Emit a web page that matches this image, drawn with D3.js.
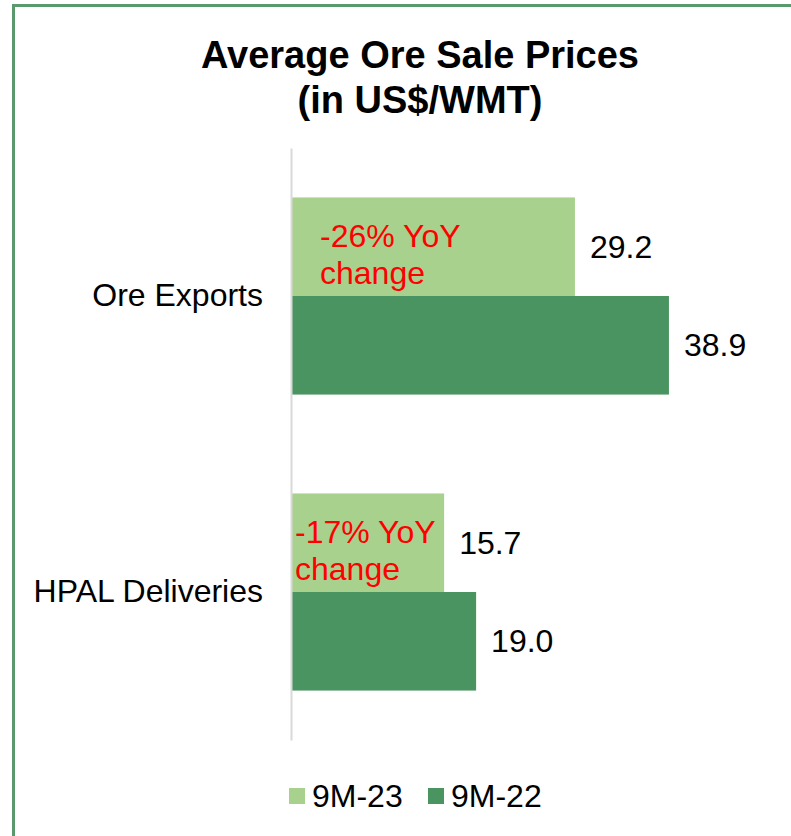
<!DOCTYPE html>
<html>
<head>
<meta charset="utf-8">
<script src="https://cdn.jsdelivr.net/npm/d3@7"></script>
<style>
  body { margin: 0; background: #fff; }
  svg { display: block; font-family: "Liberation Sans", Arial, sans-serif; }
</style>
</head>
<body>
<svg id="main_chart" width="791" height="836"></svg>
<script>
// chart data
const categories = ["Ore Exports", "HPAL Deliveries"];
const seriesNames = ["9M-23", "9M-22"];
const values923 = [29.2, 15.7];
const values922 = [38.9, 19.0];
const yoyNotes = [["-26% YoY", "change"], ["-17% YoY", "change"]];
const titleLines = ["Average Ore Sale Prices", "(in US$/WMT)"];

const colors = { "9M-23": "#a9d18e", "9M-22": "#4a9461" };

let svg = d3.select("#main_chart");

// frame (only top and left visible in the crop)
svg.append("rect")
    .attr("x", 13.5).attr("y", 5.5)
    .attr("width", 900).attr("height", 900)
    .attr("fill", "none")
    .attr("stroke", "#59996b")
    .attr("stroke-width", 3);

// title
svg.append("g").selectAll("text")
    .data(titleLines)
    .enter().append("text")
    .attr("x", 420)
    .attr("y", (d, i) => 68 + i * 45)
    .attr("text-anchor", "middle")
    .style("font-size", "38px")
    .style("font-weight", "bold")
    .text(d => d);

let xScale = d3.scaleLinear()
    .domain([0, 40])
    .range([292, 292 + 387.6]);

let yScale = d3.scaleBand()
    .domain(categories)
    .range([148, 740])
    .paddingInner(0.334)
    .paddingOuter(0.167);

let sub = d3.scaleBand()
    .domain(seriesNames)
    .range([0, yScale.bandwidth()]);

let rows = categories.map((c, i) => ({
    cat: c,
    vals: [
        { key: "9M-23", v: values923[i] },
        { key: "9M-22", v: values922[i] }
    ],
    note: yoyNotes[i]
}));

let chart = svg.append("g");

let groups = chart.selectAll("g.cat")
    .data(rows)
    .enter().append("g")
    .attr("class", "cat")
    .attr("transform", d => "translate(0," + yScale(d.cat) + ")");

groups.selectAll("rect")
    .data(d => d.vals)
    .enter().append("rect")
    .attr("x", xScale(0))
    .attr("y", d => sub(d.key))
    .attr("width", d => xScale(d.v) - xScale(0))
    .attr("height", sub.bandwidth())
    .attr("fill", d => colors[d.key]);

groups.selectAll("text.val")
    .data(d => d.vals)
    .enter().append("text")
    .attr("class", "val")
    .attr("x", d => xScale(d.v) + 15)
    .attr("y", d => sub(d.key) + sub.bandwidth() / 2)
    .attr("dy", "0.35em")
    .style("font-size", "32px")
    .text(d => d.v.toFixed(1));

// YoY notes in red inside the light bars
const noteX = [320, 295];
groups.each(function(d, i) {
    let t = d3.select(this).append("text")
        .attr("fill", "#ff0000")
        .style("font-size", "32px");
    d.note.forEach((line, j) => {
        t.append("tspan")
            .attr("x", noteX[i])
            .attr("y", sub("9M-23") + sub.bandwidth() / 2 - 11 + j * 37)
            .attr("dy", "0.35em")
            .text(line);
    });
});

// left axis
let yAxis = svg.append("g")
    .attr("transform", "translate(291,0)")
    .call(d3.axisLeft(yScale).tickSize(0).tickPadding(28));
yAxis.select(".domain").attr("stroke", "#d9d9d9").attr("stroke-width", 2);
yAxis.selectAll("text")
    .style("font-size", "32px")
    .style("font-family", "'Liberation Sans', Arial, sans-serif")
    .attr("fill", "#000");

// legend
let legend = svg.append("g").attr("transform", "translate(289,796)");
const legendX = [0, 139];
let items = legend.selectAll("g")
    .data(seriesNames)
    .enter().append("g")
    .attr("transform", (d, i) => "translate(" + legendX[i] + ",0)");
items.append("rect")
    .attr("x", 0).attr("y", -8)
    .attr("width", 16).attr("height", 16)
    .attr("fill", d => colors[d]);
items.append("text")
    .attr("x", 23)
    .attr("y", 0)
    .attr("dy", "0.35em")
    .style("font-size", "32px")
    .text(d => d);
</script>
</body>
</html>
